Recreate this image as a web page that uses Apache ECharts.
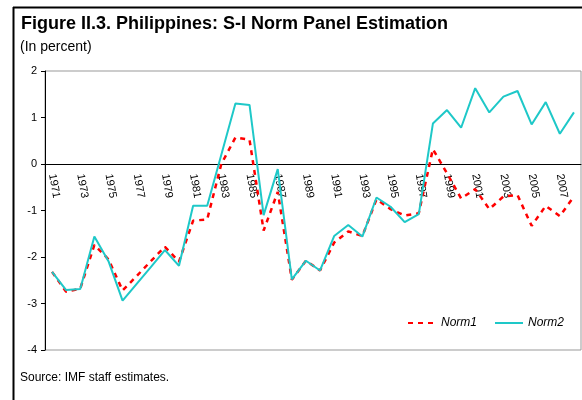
<!DOCTYPE html>
<html>
<head>
<meta charset="utf-8">
<script src="https://cdn.jsdelivr.net/npm/echarts@6/dist/echarts.min.js"></script>
<style>
  html, body { margin: 0; padding: 0; background: #fff; }
  #chart { width: 582px; height: 400px; }
</style>
</head>
<body>
<div id="chart"></div>
<script>
// years on the category axis
var years = [];
for (var y = 1971; y <= 2008; y++) years.push(String(y));

// S-I norm estimates
var norm1 = [-2.32, -2.75, -2.68, -1.74, -2.05, -2.72, -2.41, -2.09, -1.78, -2.1,
  -1.22, -1.19, 0.0, 0.57, 0.52, -1.43, -0.6, -2.49, -2.08, -2.29,
  -1.69, -1.45, -1.55, -0.76, -0.97, -1.11, -1.06, 0.32, -0.2, -0.74,
  -0.54, -0.97, -0.7, -0.67, -1.33, -0.9, -1.12, -0.7];
var norm2 = [-2.32, -2.71, -2.69, -1.56, -2.09, -2.94, -2.58, -2.22, -1.85, -2.19,
  -0.9, -0.9, 0.2, 1.3, 1.27, -1.1, -0.11, -2.48, -2.08, -2.29,
  -1.55, -1.31, -1.56, -0.72, -0.92, -1.25, -1.08, 0.87, 1.16, 0.78,
  1.63, 1.11, 1.45, 1.57, 0.85, 1.33, 0.65, 1.11];

var font = 'Liberation Sans, Arial, sans-serif';
var chart = echarts.init(document.getElementById('chart'), null, { renderer: 'canvas' });

// grid: top 71, bottom 50 -> 279px for 6 units; zero line sits 186px above the bottom
var option = {
  backgroundColor: '#fff',
  animation: false,
  textStyle: { fontFamily: font },
  title: [
    {
      text: 'Figure II.3. Philippines: S-I Norm Panel Estimation',
      left: 16, top: 10,
      textStyle: { fontFamily: font, fontSize: 18, fontWeight: 'bold', color: '#000' }
    },
    {
      text: '(In percent)',
      left: 15, top: 35,
      textStyle: { fontFamily: font, fontSize: 14, fontWeight: 'normal', color: '#000' }
    },
    {
      text: 'Source: IMF staff estimates.',
      left: 15, top: 367,
      textStyle: { fontFamily: font, fontSize: 12, fontWeight: 'normal', color: '#000' }
    }
  ],
  legend: {
    left: 402, top: 312,
    itemWidth: 28, itemHeight: 10, itemGap: 17,
    itemStyle: { opacity: 0 },
    textStyle: { fontFamily: font, fontSize: 12, fontStyle: 'italic', color: '#000' },
    data: ['Norm1', 'Norm2']
  },
  grid: {
    left: 45, right: 1, top: 71, bottom: 50,
    show: true, borderColor: '#999', borderWidth: 1, backgroundColor: 'transparent'
  },
  xAxis: {
    type: 'category',
    data: years,
    boundaryGap: true,
    offset: -186,
    axisLine: { onZero: false, lineStyle: { color: '#000', width: 1 } },
    axisTick: { inside: true, length: 4, interval: 0, lineStyle: { color: '#000' } },
    axisLabel: { interval: 1, rotate: -80, fontSize: 11, color: '#000', margin: 10, fontFamily: font },
    splitLine: { show: false }
  },
  yAxis: {
    type: 'value',
    min: -4, max: 2, interval: 1,
    axisLine: { show: true, lineStyle: { color: '#000', width: 1 } },
    axisTick: { show: true, length: 4, lineStyle: { color: '#000' } },
    axisLabel: { fontSize: 11, color: '#000', margin: 8, fontFamily: font },
    splitLine: { show: false }
  },
  series: [
    {
      name: 'Norm1', type: 'line', data: norm1,
      symbol: 'none', color: '#ff0000',
      lineStyle: { color: '#ff0000', width: 2.5, type: [5, 5] }
    },
    {
      name: 'Norm2', type: 'line', data: norm2,
      symbol: 'none', color: '#1ec8c8',
      lineStyle: { color: '#1ec8c8', width: 2 }
    }
  ],
  graphic: [
    { type: 'line', shape: { x1: 13.5, y1: 7, x2: 13.5, y2: 400 }, style: { stroke: '#000', lineWidth: 2 } },
    { type: 'line', shape: { x1: 13, y1: 7.5, x2: 582, y2: 7.5 }, style: { stroke: '#000', lineWidth: 2 } }
  ]
};

chart.setOption(option);
</script>
</body>
</html>
